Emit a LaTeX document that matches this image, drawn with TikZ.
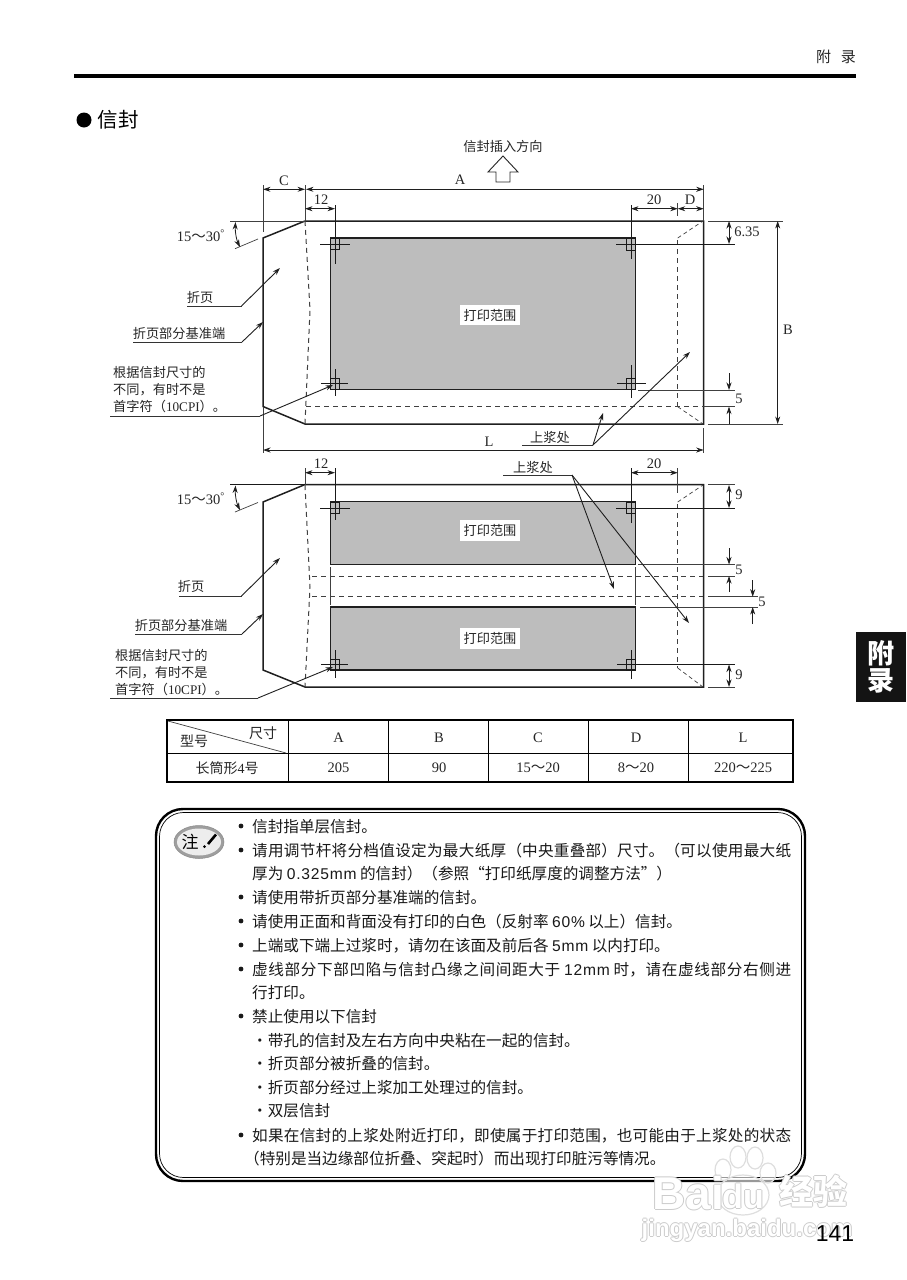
\documentclass[tikz,border=0pt]{standalone}
\usepackage{fontspec}
\usetikzlibrary{arrows.meta,shapes.geometric}
\setmainfont{Noto Sans CJK SC}
\newfontfamily\lsf{Liberation Serif}
\newfontfamily\lnf{Liberation Sans}
\newfontfamily\lnw[LetterSpace=5]{Liberation Sans}
\newcommand{\jl}[1]{\parbox[b]{539pt}{\XeTeXlinebreaklocale "zh"\XeTeXlinebreakskip=0pt plus 3pt minus .5pt\parfillskip=0pt\tolerance=9999\noindent #1}}
\definecolor{grayarea}{gray}{0.74}
\tikzset{
  x=1pt,y=-1pt,
  >={Stealth[length=7.5pt,width=5pt]},
  env/.style={line width=1.5pt,black!88},
  hair/.style={line width=.7pt,black!75},
  dim/.style={line width=.8pt,black!88,<->},
  dimone/.style={line width=.8pt,black!88,->},
  lead/.style={line width=.9pt,black!88,->},
  under/.style={line width=.9pt,black!80},
  dashln/.style={line width=1pt,black!75,dash pattern=on 5pt off 4pt},
  thindash/.style={line width=.7pt,black!75,dash pattern=on 4pt off 3pt},
  area/.style={draw=black!88,line width=1.3pt},
  lab/.style={font=\fontsize{13.2}{15}\selectfont,inner sep=0pt,text=black!85},
  tlab/.style={font=\fontsize{14}{16}\selectfont,inner sep=0pt,text=black!85},
  num/.style={font=\fontsize{14.5}{16}\selectfont\lsf,inner sep=0pt,text=black!85},
  areatext/.style={lab,fill=white,inner xsep=4pt,inner ysep=4pt},
  note/.style={font=\fontsize{15.6}{18}\selectfont,inner sep=0pt,anchor=base west,text=black!90},
  gridln/.style={line width=1pt,black},
  gridout/.style={line width=1.7pt,black},
  wmo/.style={text=black!20,inner sep=0pt},
  wmi/.style={text=white,inner sep=0pt},
}
\newcommand{\regmark}[8]{% cx cy hx1 hx2 vy1 vy2 sqy1 sqy2
  \draw[hair,black!90] (#3,#2) -- (#4,#2);
  \draw[hair,black!90] (#1,#5) -- (#1,#6);
  \draw[hair,black!90] (#1-4.5,#7) rectangle (#1+4.5,#8);
}
\newcommand{\wm}[5]{% name x y text font
  \foreach \dx/\dy [count=\k] in {-1/0,1/0,0/-1,0/1}
    \node[wmo,font=#5] (#1o\k) at (#2+\dx,#3+\dy) {#4};
  \node[wmi,font=#5] (#1) at (#2,#3) {#4};
}
\begin{document}
\begin{tikzpicture}
\useasboundingbox (0,0) rectangle (906,1280);
\fill[white] (0,0) rectangle (906,1280);

% header
\node[lab,font=\fontsize{15}{17}\selectfont] (hdr) at (836,57) {附\hspace{10pt}录};
\draw[line width=4pt,black] (74,76) -- (856,76);
\fill[black] (84,120) circle (7.5);
\node[inner sep=0pt,font=\fontsize{20.5}{22}\selectfont,text=black,anchor=west] (title) at (97.5,120) {信封};

% insertion arrow
\node[lab] (ins) at (503,146) {信封插入方向};
\draw[line width=.9pt,black!85] (503,156) -- (518,172) -- (510,172) -- (510,182) -- (496,182) -- (496,172) -- (488,172) -- cycle;

% ===== envelope 1 =====
\fill[grayarea] (330.5,238) rectangle (635.7,389.5);
\draw[area] (330.5,238) rectangle (635.7,389.5);
\draw[env] (263,238) -- (305,221) -- (703.7,221) -- (703.7,424) -- (305,424) -- (263,406.5) -- cycle;
\draw[dashln] (305,221) -- (310,310) -- (305,424);
\draw[dashln] (306,406.7) -- (703,406.7);
\draw[dashln] (677.7,240) -- (677.7,406.7);
\draw[thindash] (677.7,238) -- (703,221);
\draw[thindash] (677.7,406.7) -- (703,424);
\regmark{335}{244}{320}{350}{205}{264}{238}{249}
\regmark{335}{383.5}{321}{348}{369}{396}{378}{389}
\regmark{631}{244}{616}{735}{205}{259}{238}{250}
\regmark{631}{383.5}{617}{646}{365}{398}{378}{389}
% dimensions
\draw[hair] (263,185) -- (263,232);
\draw[hair] (305,185) -- (305,221);
\draw[hair] (703.7,185) -- (703.7,221);
\draw[dim] (263,189.3) -- (305,189.3);
\draw[dim] (306,189.3) -- (703.7,189.3);
\node[num] (lC) at (284,181) {C};
\node[num] (lA) at (460,180) {A};
\draw[dim] (305,208.7) -- (335,208.7);
\node[num] (l12a) at (321,200) {12};
\draw[dim] (631,208.7) -- (677.7,208.7);
\draw[dim] (677.7,208.7) -- (703.7,208.7);
\draw[hair] (677.7,203) -- (677.7,216);
\node[num] (l20a) at (654,200) {20};
\node[num] (lD) at (690,200) {D};
\draw[hair] (263,407) -- (263,453);
\draw[hair] (703.7,428) -- (703.7,453);
\draw[dim] (263,450) -- (703.7,450);
\node[num] (lL) at (489,442) {L};
% angle
\draw[hair] (230,221) -- (305,221);
\draw[hair] (235,248.7) -- (258,239);
\draw[dim] (235.5,222) .. controls (235,232) and (236.5,240) .. (240,247);
\node[num] (ang1) at (201,236) {15{\rmfamily～}30\textsuperscript{°}};
% right dims
\draw[hair] (708,221) -- (783,221);
\draw[hair] (708,424) -- (783,424);
\draw[dim] (777.7,221) -- (777.7,424);
\node[num] (lB) at (788,330) {B};
\draw[dim] (729,221) -- (729,244);
\node[num] (l635) at (747,232) {6.35};
\draw[hair] (638,390) -- (735,390);
\draw[hair] (702,406.7) -- (735,406.7);
\draw[dimone] (729,373) -- (729,390);
\draw[dimone] (729,423.5) -- (729,406.7);
\node[num] (l5a) at (739,399) {5};
% leaders
\node[lab] (fy1) at (200,297) {折页};
\coordinate (fy1t) at (280,268);
\draw[under] (187,306) -- (241.5,306);
\draw[lead] (241.5,306) -- (fy1t);
\node[lab] (jz1) at (179,333) {折页部分基准端};
\coordinate (jz1t) at (263,322);
\draw[under] (133,342) -- (242,342);
\draw[lead] (242,342) -- (jz1t);
\node[lab,align=left,anchor=west,font=\fontsize{13.2}{17}\selectfont] (gj1) at (113,390) {根据信封尺寸的\\不同，有时不是\\首字符（{\lsf 10CPI}）。};
\coordinate (gj1t) at (333,385);
\draw[under] (110,416) -- (260,416);
\draw[lead] (260,416) -- (gj1t);
\node[lab] (sj1) at (550,437) {上浆处};
\coordinate (sj1a) at (603,413);
\coordinate (sj1b) at (690,352);
\draw[under] (522,445) -- (593,445);
\draw[lead] (593,445) -- (sj1a);
\draw[lead] (593,445) -- (sj1b);
\node[areatext] (pa1) at (490,315) {打印范围};

% ===== envelope 2 =====
\fill[grayarea] (330.5,501.7) rectangle (635.7,564.3);
\draw[area] (330.5,501.7) rectangle (635.7,564.3);
\fill[grayarea] (330.5,607) rectangle (635.7,670);
\draw[area] (330.5,607) rectangle (635.7,670);
\draw[env] (263,502) -- (305,484.5) -- (703.7,484.5) -- (703.7,687) -- (305,687) -- (263,670) -- cycle;
\draw[dashln] (305,485) -- (310,587) -- (305,687);
\draw[dashln] (312,576) -- (703,576);
\draw[dashln] (312,596.7) -- (703,596.7);
\draw[dashln] (677.7,504) -- (677.7,668);
\draw[thindash] (677.7,502) -- (703,485);
\draw[thindash] (677.7,668) -- (703,687);
\draw[hair] (330,567) -- (330,605);
\draw[hair] (635.7,567) -- (635.7,605);
\regmark{335}{508}{320}{350}{468}{520}{502}{513}
\regmark{335}{664.5}{321}{348}{650}{678}{659}{670}
\regmark{631}{508}{616}{735}{468}{523}{502}{513}
\regmark{631}{664.5}{617}{735}{650}{679}{659}{670}
\draw[hair] (305,468) -- (305,485);
\draw[dim] (305,472.7) -- (335,472.7);
\node[num] (l12b) at (321,464) {12};
\draw[hair] (677.7,468) -- (677.7,493);
\draw[dim] (631,472.7) -- (677.7,472.7);
\node[num] (l20b) at (654,464) {20};
% angle
\draw[hair,black!90] (230,484.5) -- (305,484.5);
\draw[hair] (235,512) -- (258,502.5);
\draw[dim] (235.5,485.5) .. controls (235,495) and (236.5,503) .. (240,510);
\node[num] (ang2) at (201,499) {15{\rmfamily～}30\textsuperscript{°}};
% right dims
\draw[hair] (708,484.5) -- (735,484.5);
\draw[dim] (729,485) -- (729,508);
\node[num] (l9a) at (739,495) {9};
\draw[hair] (638,564.5) -- (735,564.5);
\draw[hair] (708,576) -- (735,576);
\draw[dimone] (729,548) -- (729,564.5);
\draw[dimone] (729,592) -- (729,576);
\node[num] (l5b) at (739,570) {5};
\draw[hair] (708,596.7) -- (758,596.7);
\draw[hair] (640,607) -- (758,607);
\draw[dimone] (752.7,580) -- (752.7,596.7);
\draw[dimone] (752.7,624) -- (752.7,607);
\node[num] (l5c) at (762,602) {5};
\draw[hair] (708,687) -- (735,687);
\draw[dim] (729,664.5) -- (729,687);
\node[num] (l9b) at (739,675) {9};
% leaders
\node[lab] (fy2) at (191,586) {折页};
\coordinate (fy2t) at (280,558);
\draw[under] (179,596) -- (241.5,596);
\draw[lead] (241.5,596) -- (fy2t);
\node[lab] (jz2) at (181,625) {折页部分基准端};
\coordinate (jz2t) at (263,614);
\draw[under] (135,634) -- (242,634);
\draw[lead] (242,634) -- (jz2t);
\node[lab,align=left,anchor=west,font=\fontsize{13.2}{17}\selectfont] (gj2) at (115,673) {根据信封尺寸的\\不同，有时不是\\首字符（{\lsf 10CPI}）。};
\coordinate (gj2t) at (333,667);
\draw[under] (110,698) -- (258,698);
\draw[lead] (258,698) -- (gj2t);
\node[lab] (sj2) at (533,467) {上浆处};
\coordinate (sj2a) at (614,589);
\coordinate (sj2b) at (689,623);
\draw[under] (503,475) -- (572,475);
\draw[lead] (572,475) -- (sj2a);
\draw[lead] (572,475) -- (sj2b);
\node[areatext] (pa2) at (490,530.5) {打印范围};
\node[areatext] (pa3) at (490,638.5) {打印范围};

% ===== table =====
\draw[gridout] (166.7,720) rectangle (793,781.7);
\draw[gridln] (166.7,753) -- (793,753);
\foreach \gx in {288,388,488,588,688.7}
  \draw[gridln] (\gx,720) -- (\gx,781.7);
\draw[hair] (168,721) -- (286,753);
\node[tlab] (tsize) at (263,733) {尺寸};
\node[tlab] (ttype) at (194,741) {型号};
\node[num] (tA) at (338.5,738) {A};
\node[num] (tB) at (439,738) {B};
\node[num] (tC) at (538,738) {C};
\node[num] (tD) at (636,738) {D};
\node[num] (tL) at (743,738) {L};
\node[tlab] (tr) at (227,768) {长筒形{\lsf 4}号};
\node[num] (t205) at (338.5,768) {205};
\node[num] (t90) at (439,768) {90};
\node[num] (t1520) at (538,768) {15{\rmfamily～}20};
\node[num] (t820) at (636,768) {8{\rmfamily～}20};
\node[num] (t220) at (743,768) {220{\rmfamily～}225};

% ===== note box =====
\draw[line width=2.4pt,black,rounded corners=27pt] (156,1181) -- (156,809) -- (805,809) -- (805,1181) -- cycle;
\draw[line width=.7pt,black,rounded corners=24pt] (159.5,1177.5) -- (159.5,812.5) -- (801.5,812.5) -- (801.5,1177.5) -- cycle;
\node[ellipse,minimum width=50pt,minimum height=33pt,fill=black!38,draw=black!45,line width=.5pt,inner sep=0pt] (ico) at (199,842) {};
\node[ellipse,minimum width=44pt,minimum height=27pt,fill=black!7,inner sep=0pt] (ico2) at (199,842) {};
\node[inner sep=0pt,font=\fontsize{17}{19}\selectfont] (zhu) at (190,842) {注};
\draw[line width=2.6pt,black] (216,834.5) -- (208,844);
\fill[black] (204.5,846.5) circle (1.5);

\foreach \by in {826,850,897,921,945,969,1016,1135}
  \fill[black!90] (241,\by) circle (2.4);
\node[note] (n1) at (252,832) {信封指单层信封。};
\node[note] (n2) at (252,856) {\jl{请用调节杆将分档值设定为最大纸厚（中央重叠部）尺寸。（可以使用最大纸}};
\node[note] (n3) at (252,879) {厚为 {\lnw 0.325mm} 的信封）（参照“打印纸厚度的调整方法”）};
\node[note] (n4) at (252,903) {请使用带折页部分基准端的信封。};
\node[note] (n5) at (252,927) {请使用正面和背面没有打印的白色（反射率 {\lnw 60\%} 以上）信封。};
\node[note] (n6) at (252,951) {上端或下端上过浆时，请勿在该面及前后各 {\lnw 5mm} 以内打印。};
\node[note] (n7) at (252,975) {\jl{虚线部分下部凹陷与信封凸缘之间间距大于 {\lnw 12mm} 时，请在虚线部分右侧进}};
\node[note] (n8) at (252,998) {行打印。};
\node[note] (n9) at (252,1022) {禁止使用以下信封};
\node[note] (n10) at (252,1046) {・带孔的信封及左右方向中央粘在一起的信封。};
\node[note] (n11) at (252,1069) {・折页部分被折叠的信封。};
\node[note] (n12) at (252,1093) {・折页部分经过上浆加工处理过的信封。};
\node[note] (n13) at (252,1116) {・双层信封};
\node[note] (n14) at (252,1141) {\jl{如果在信封的上浆处附近打印，即使属于打印范围，也可能由于上浆处的状态}};
\node[note] (n15) at (244,1164) {（特别是当边缘部位折叠、突起时）而出现打印脏污等情况。};

% side tab
\fill[black!92] (856,632) rectangle (906,702);
\node[inner sep=0pt,text=white,font=\fontsize{27}{29}\selectfont\bfseries] (tab1) at (881,653) {附};
\node[inner sep=0pt,text=white,font=\fontsize{27}{29}\selectfont\bfseries] (tab2) at (881,681) {录};

% watermark
\foreach \px/\py/\prx/\pry in {723/1170/8/11,738/1157/8/11,755/1158/8/11,768/1173/8/10,743/1195/26/20}
  \draw[black!13,line width=1.2pt,fill=white,fill opacity=.6] (\px,\py) ellipse ({\prx} and {\pry});
\wm{wmA}{688}{1193}{Bai}{\fontsize{46}{48}\selectfont\lnf\bfseries}
\wm{wmB}{743}{1196}{du}{\fontsize{34}{36}\selectfont\lnf\bfseries}
\wm{wmC}{813}{1191}{经验}{\fontsize{34}{36}\selectfont\bfseries}
\wm{wmD}{747}{1230}{jingyan.baidu.com}{\fontsize{24}{26}\selectfont\lnf\bfseries}

\node[inner sep=0pt,font=\fontsize{23}{25}\selectfont\lnf,text=black] (page) at (835,1234) {141};
\end{tikzpicture}
\end{document}
